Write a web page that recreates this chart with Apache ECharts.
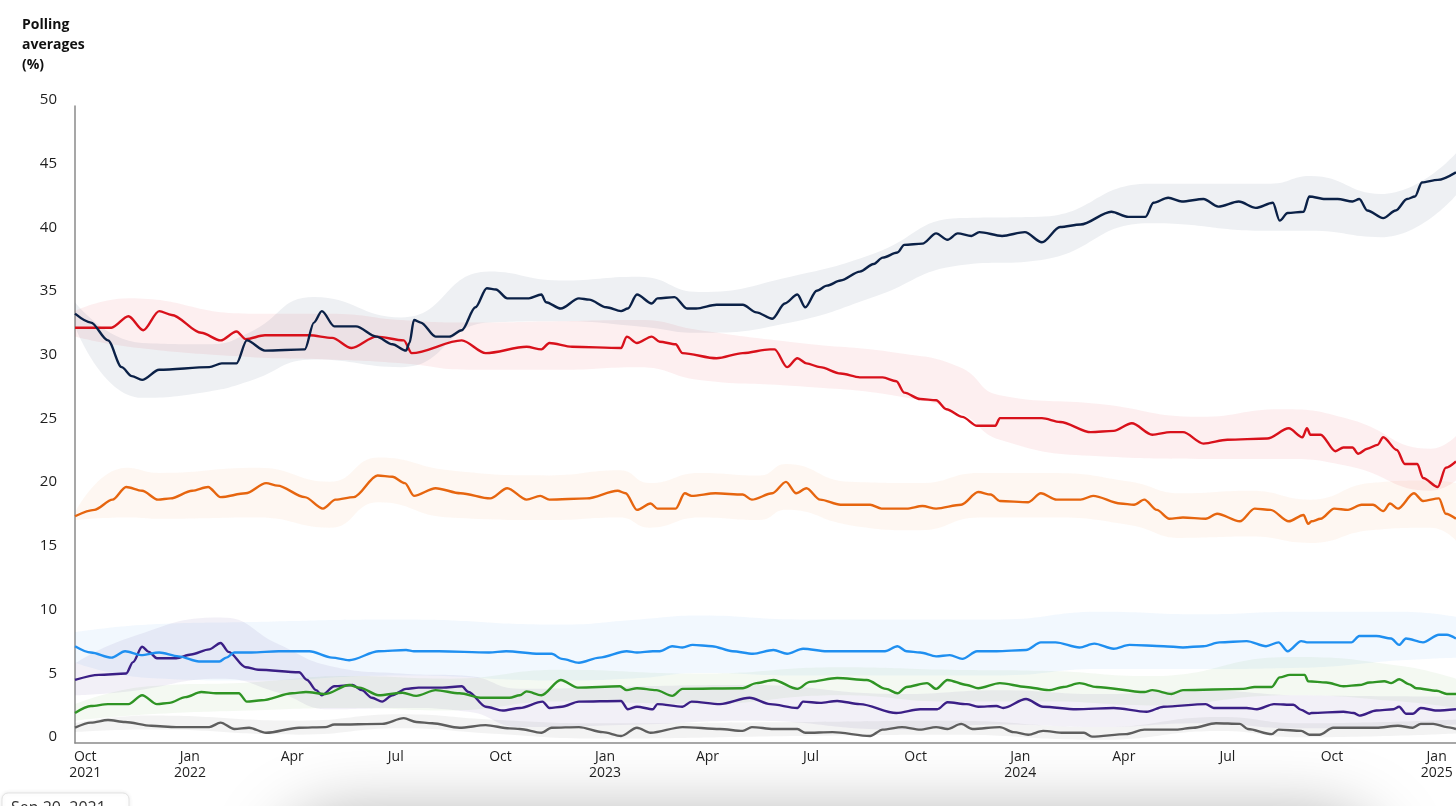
<!DOCTYPE html>
<html>
<head>
<meta charset="utf-8">
<script src="https://cdn.jsdelivr.net/npm/echarts@6/dist/echarts.min.js"></script>
<style>
html,body{margin:0;padding:0;background:#fff;}
#chart{width:1456px;height:806px;}
</style>
</head>
<body>
<div id="chart"></div>
<script>
// ---------- DATA ----------
const monthNames = ['Jan','Feb','Mar','Apr','May','Jun','Jul','Aug','Sep','Oct','Nov','Dec'];
const firstYear = 2021;

const conservative = [
['2021-09-22',33.7],['2021-10-06',33.0],['2021-10-21',31.6],['2021-11-02',29.5],['2021-11-11',28.8],['2021-11-20',28.5],
['2021-12-05',29.3],['2022-01-18',29.5],['2022-01-29',29.8],['2022-02-11',29.8],['2022-02-20',31.6],['2022-03-08',30.8],
['2022-04-12',30.9],['2022-04-20',33.0],['2022-04-27',33.9],['2022-05-08',32.7],['2022-05-27',32.7],['2022-06-14',31.9],
['2022-06-28',31.3],['2022-07-10',30.8],['2022-07-13',31.4],['2022-07-17',33.2],['2022-07-23',33.0],['2022-08-05',31.9],
['2022-08-17',31.9],['2022-08-28',32.4],['2022-09-09',34.2],['2022-09-19',35.7],['2022-09-27',35.6],['2022-10-07',34.9],
['2022-10-26',34.9],['2022-11-06',35.2],['2022-11-10',34.6],['2022-11-23',34.1],['2022-12-09',34.9],['2022-12-18',34.8],
['2023-01-02',34.2],['2023-01-15',33.9],['2023-01-21',34.1],['2023-01-29',35.2],['2023-02-11',34.5],['2023-02-16',34.9],
['2023-03-03',35.0],['2023-03-14',34.1],['2023-03-22',34.1],['2023-04-09',34.4],['2023-05-02',34.4],['2023-05-14',33.8],
['2023-05-28',33.3],['2023-06-08',34.5],['2023-06-19',35.2],['2023-06-26',34.2],['2023-07-06',35.5],['2023-07-15',35.9],
['2023-07-27',36.3],['2023-08-13',37.0],['2023-08-25',37.6],['2023-09-02',38.1],['2023-09-15',38.5],['2023-09-21',39.1],
['2023-10-07',39.2],['2023-10-19',40.0],['2023-10-29',39.5],['2023-11-07',40.0],['2023-11-19',39.8],['2023-11-26',40.1],
['2023-12-16',39.8],['2024-01-05',40.1],['2024-01-20',39.3],['2024-02-05',40.5],['2024-02-23',40.7],['2024-03-21',41.7],
['2024-04-05',41.3],['2024-04-20',41.3],['2024-04-27',42.4],['2024-05-10',42.8],['2024-05-22',42.5],['2024-06-10',42.7],
['2024-06-23',42.1],['2024-07-11',42.5],['2024-07-26',42.0],['2024-08-10',42.4],['2024-08-16',41.0],['2024-08-23',41.6],
['2024-09-06',41.7],['2024-09-11',42.9],['2024-09-25',42.7],['2024-10-06',42.7],['2024-10-19',42.5],['2024-10-25',42.7],
['2024-11-01',41.8],['2024-11-15',41.2],['2024-11-26',41.8],['2024-12-06',42.7],['2024-12-13',42.9],['2024-12-19',44.0],
['2025-01-02',44.2],['2025-01-18',44.8]
];

const liberal = [
['2021-09-22',32.6],['2021-10-24',32.6],['2021-11-08',33.5],['2021-11-21',32.4],['2021-12-05',33.9],['2021-12-16',33.6],
['2022-01-11',32.2],['2022-01-28',31.6],['2022-02-11',32.3],['2022-02-19',31.7],['2022-03-08',32.0],['2022-04-16',32.0],
['2022-05-06',31.8],['2022-05-23',31.0],['2022-06-14',31.9],['2022-07-08',31.6],['2022-07-15',30.6],['2022-08-28',31.6],
['2022-09-18',30.6],['2022-10-24',31.1],['2022-11-06',30.9],['2022-11-13',31.4],['2022-12-03',31.1],['2023-01-15',31.0],
['2023-01-20',31.9],['2023-01-29',31.4],['2023-02-11',31.9],['2023-02-18',31.5],['2023-03-04',31.3],['2023-03-10',30.6],
['2023-04-09',30.2],['2023-05-02',30.6],['2023-05-26',30.9],['2023-05-30',30.9],['2023-06-10',29.5],['2023-06-19',30.2],
['2023-06-27',29.8],['2023-07-09',29.5],['2023-07-27',29.0],['2023-08-13',28.7],['2023-09-02',28.7],['2023-09-14',28.4],
['2023-09-21',27.5],['2023-10-05',27.0],['2023-10-19',26.9],['2023-10-28',26.2],['2023-11-11',25.6],['2023-11-24',24.9],
['2023-12-10',24.9],['2023-12-14',25.5],['2024-01-20',25.5],['2024-02-05',25.2],['2024-03-03',24.4],['2024-03-23',24.5],
['2024-04-08',25.1],['2024-04-26',24.2],['2024-05-12',24.4],['2024-05-23',24.4],['2024-06-10',23.5],['2024-07-01',23.8],
['2024-08-05',23.9],['2024-08-24',24.7],['2024-09-05',24.0],['2024-09-09',24.7],['2024-09-12',24.2],['2024-09-21',24.2],
['2024-10-04',22.9],['2024-10-11',23.2],['2024-10-19',23.2],['2024-10-24',22.7],['2024-11-01',23.1],['2024-11-10',23.4],
['2024-11-15',24.0],['2024-11-27',23.0],['2024-12-04',21.9],['2024-12-15',21.9],['2024-12-20',20.8],['2025-01-02',20.1],
['2025-01-09',21.6],['2025-01-18',22.1]
];

const ndp = [
['2021-09-22',17.8],['2021-10-09',18.3],['2021-10-25',19.1],['2021-11-06',20.1],['2021-11-20',19.8],['2021-12-04',19.1],
['2021-12-15',19.2],['2022-01-03',19.8],['2022-01-17',20.1],['2022-01-28',19.3],['2022-02-19',19.6],['2022-03-09',20.4],
['2022-03-19',20.2],['2022-04-12',19.3],['2022-04-28',18.4],['2022-05-09',19.1],['2022-05-25',19.3],['2022-06-15',21.0],
['2022-06-28',20.9],['2022-07-09',20.4],['2022-07-17',19.4],['2022-08-05',20.0],['2022-08-27',19.6],['2022-09-22',19.2],
['2022-10-07',20.0],['2022-10-24',19.1],['2022-11-05',19.4],['2022-11-13',19.1],['2022-12-16',19.2],['2023-01-12',19.8],
['2023-01-19',19.6],['2023-01-29',18.3],['2023-02-10',18.8],['2023-02-16',18.4],['2023-03-04',18.4],['2023-03-12',19.6],
['2023-03-18',19.4],['2023-04-08',19.6],['2023-05-02',19.5],['2023-05-10',19.1],['2023-05-28',19.6],['2023-06-09',20.5],
['2023-06-18',19.6],['2023-06-27',20.0],['2023-07-09',19.1],['2023-07-27',18.7],['2023-08-22',18.7],['2023-09-01',18.4],
['2023-09-23',18.4],['2023-10-07',18.6],['2023-10-19',18.4],['2023-11-10',18.7],['2023-11-25',19.7],['2023-12-06',19.5],
['2023-12-14',19.0],['2024-01-08',18.9],['2024-01-19',19.6],['2024-02-02',19.1],['2024-02-23',19.1],['2024-03-05',19.4],
['2024-03-29',18.8],['2024-04-10',18.7],['2024-04-19',19.1],['2024-04-30',18.3],['2024-05-11',17.6],['2024-05-23',17.7],
['2024-06-12',17.6],['2024-06-22',18.0],['2024-07-12',17.4],['2024-07-25',18.4],['2024-08-08',18.3],['2024-08-24',17.4],
['2024-09-06',17.9],['2024-09-10',17.2],['2024-09-13',17.4],['2024-09-21',17.6],['2024-10-03',18.4],['2024-10-15',18.3],
['2024-10-27',18.7],['2024-11-06',18.7],['2024-11-15',18.2],['2024-11-21',18.8],['2024-11-28',18.4],['2024-12-12',19.6],
['2024-12-20',19.0],['2025-01-03',19.2],['2025-01-09',18.0],['2025-01-18',17.6]
];

const bloc = [
['2021-09-22',7.6],['2021-10-06',7.1],['2021-10-24',6.7],['2021-11-05',7.2],['2021-11-19',6.9],['2021-12-05',7.1],
['2021-12-22',6.8],['2022-01-09',6.4],['2022-01-27',6.4],['2022-02-02',6.7],['2022-02-09',7.1],['2022-02-24',7.1],
['2022-03-20',7.2],['2022-04-16',7.2],['2022-05-06',6.7],['2022-05-21',6.5],['2022-06-16',7.2],['2022-07-10',7.3],
['2022-07-17',7.2],['2022-08-08',7.2],['2022-09-21',7.1],['2022-10-06',7.2],['2022-11-04',7.0],['2022-11-15',7.0],
['2022-11-24',6.6],['2022-12-09',6.3],['2022-12-27',6.7],['2023-01-20',7.2],['2023-01-29',7.1],['2023-02-12',7.2],
['2023-02-18',7.2],['2023-03-01',7.6],['2023-03-10',7.5],['2023-03-19',7.7],['2023-04-05',7.6],['2023-04-23',7.2],
['2023-05-11',7.0],['2023-05-29',7.3],['2023-06-10',7.0],['2023-06-24',7.4],['2023-07-15',7.2],['2023-08-11',7.2],
['2023-09-04',7.2],['2023-09-15',7.6],['2023-09-23',7.2],['2023-10-05',7.1],['2023-10-19',6.8],['2023-10-31',6.9],
['2023-11-11',6.6],['2023-11-24',7.2],['2023-12-11',7.2],['2024-01-06',7.3],['2024-01-19',7.9],['2024-02-01',7.9],
['2024-02-22',7.5],['2024-03-06',7.8],['2024-03-23',7.4],['2024-04-06',7.7],['2024-05-06',7.6],['2024-05-23',7.5],
['2024-06-10',7.6],['2024-06-24',7.9],['2024-07-18',8.0],['2024-08-04',7.6],['2024-08-15',7.9],['2024-08-23',7.2],
['2024-09-04',8.0],['2024-09-09',7.9],['2024-09-24',7.9],['2024-10-18',7.9],['2024-10-25',8.4],['2024-11-09',8.4],
['2024-11-22',8.2],['2024-11-29',7.7],['2024-12-05',8.2],['2024-12-20',7.9],['2025-01-03',8.5],['2025-01-10',8.5],
['2025-01-18',8.2]
];

const green = [
['2021-09-22',2.35],['2021-10-06',2.9],['2021-10-21',3.05],['2021-11-08',3.05],['2021-11-20',3.75],['2021-12-03',3.05],
['2021-12-14',3.15],['2021-12-28',3.6],['2022-01-11',4.0],['2022-01-24',3.9],['2022-02-13',3.9],['2022-02-20',3.25],
['2022-03-05',3.35],['2022-04-01',3.9],['2022-04-13',4.0],['2022-04-30',3.85],['2022-05-21',4.55],['2022-05-30',4.35],
['2022-06-16',3.75],['2022-07-07',3.95],['2022-07-19',3.7],['2022-08-05',4.15],['2022-08-26',3.9],['2022-09-15',3.55],
['2022-10-09',3.55],['2022-10-18',3.75],['2022-10-24',4.05],['2022-11-06',3.75],['2022-11-23',4.95],['2022-12-08',4.35],
['2023-01-14',4.45],['2023-01-20',4.15],['2023-01-29',4.3],['2023-02-15',4.15],['2023-03-01',3.7],['2023-03-10',4.25],
['2023-05-02',4.3],['2023-05-14',4.7],['2023-05-29',4.95],['2023-06-19',4.25],['2023-06-30',4.8],['2023-07-24',5.1],
['2023-08-19',4.95],['2023-09-05',4.25],['2023-09-15',3.9],['2023-09-23',4.4],['2023-10-11',4.7],['2023-10-19',4.25],
['2023-10-29',4.95],['2023-11-15',4.55],['2023-11-25',4.3],['2023-12-14',4.7],['2024-01-06',4.4],['2024-01-26',4.15],
['2024-02-08',4.4],['2024-02-22',4.7],['2024-03-08',4.4],['2024-04-19',4.0],['2024-04-26',4.15],['2024-05-13',3.85],
['2024-05-23',4.15],['2024-07-15',4.25],['2024-07-25',4.4],['2024-08-09',4.4],['2024-08-16',5.15],['2024-08-25',5.35],
['2024-09-07',5.35],['2024-09-10',4.85],['2024-09-26',4.75],['2024-10-11',4.45],['2024-10-25',4.55],['2024-11-03',4.75],
['2024-11-16',4.85],['2024-11-22',4.7],['2024-11-29',5.0],['2024-12-08',4.6],['2024-12-14',4.3],['2025-01-01',4.1],
['2025-01-10',3.85],['2025-01-18',3.85]
];

const ppc = [
['2021-09-22',4.95],['2021-10-13',5.35],['2021-11-06',5.45],['2021-11-12',6.35],['2021-11-20',7.55],['2021-11-26',7.15],
['2021-12-03',6.65],['2021-12-20',6.65],['2022-01-02',6.95],['2022-01-18',7.35],['2022-01-28',7.85],['2022-02-04',7.15],
['2022-02-19',5.95],['2022-03-02',5.75],['2022-04-07',5.55],['2022-04-14',4.95],['2022-04-22',4.15],['2022-04-27',3.75],
['2022-05-08',4.45],['2022-05-24',4.55],['2022-06-01',4.15],['2022-06-10',3.55],['2022-06-19',3.25],['2022-06-28',3.75],
['2022-07-10',4.25],['2022-07-21',4.35],['2022-08-11',4.35],['2022-08-28',4.45],['2022-09-03',4.0],['2022-09-18',2.85],
['2022-10-03',2.55],['2022-10-18',2.75],['2022-11-07',3.25],['2022-11-13',2.75],['2022-11-24',2.85],['2022-12-09',3.25],
['2023-01-15',3.3],['2023-01-21',2.65],['2023-01-29',2.85],['2023-02-12',2.65],['2023-02-16',3.05],['2023-03-10',2.85],
['2023-03-18',3.25],['2023-04-12',3.05],['2023-05-08',3.55],['2023-05-26',3.05],['2023-06-19',2.75],['2023-06-24',3.25],
['2023-07-09',3.15],['2023-07-24',3.3],['2023-08-13',3.05],['2023-09-14',2.35],['2023-10-05',2.65],['2023-10-20',2.65],
['2023-10-29',3.2],['2023-11-15',3.05],['2023-11-25',2.85],['2023-12-11',2.9],['2023-12-17',2.75],['2024-01-06',3.45],
['2024-01-21',2.85],['2024-02-19',2.65],['2024-03-23',2.75],['2024-04-21',2.45],['2024-05-06',2.85],['2024-06-12',3.05],
['2024-06-19',2.75],['2024-07-18',2.75],['2024-07-27',2.65],['2024-08-11',3.05],['2024-08-28',3.0],['2024-09-04',2.6],
['2024-09-11',2.3],['2024-09-13',2.35],['2024-10-11',2.45],['2024-10-20',2.35],['2024-10-25',2.15],['2024-11-09',2.55],
['2024-11-24',2.65],['2024-11-29',2.85],['2024-12-05',2.3],['2024-12-11',2.3],['2024-12-18',2.75],['2025-01-01',2.55],
['2025-01-18',2.65]
];

const others = [
['2021-09-22',1.2],['2021-10-06',1.6],['2021-10-21',1.8],['2021-11-05',1.65],['2021-11-28',1.35],['2021-12-20',1.25],
['2022-01-18',1.25],['2022-01-28',1.6],['2022-02-09',1.1],['2022-02-22',1.2],['2022-03-09',0.8],['2022-04-07',1.2],
['2022-04-30',1.25],['2022-05-08',1.45],['2022-06-19',1.5],['2022-07-08',1.95],['2022-07-19',1.65],['2022-08-02',1.55],
['2022-08-26',1.2],['2022-09-18',1.4],['2022-10-09',1.15],['2022-10-18',1.1],['2022-11-06',0.8],['2022-11-15',1.2],
['2022-12-09',1.25],['2022-12-30',0.85],['2023-01-15',0.55],['2023-01-29',1.2],['2023-02-10',0.8],['2023-03-10',1.25],
['2023-04-12',1.1],['2023-05-02',0.95],['2023-05-10',1.25],['2023-05-29',1.1],['2023-06-19',1.1],['2023-06-26',0.8],
['2023-07-20',0.85],['2023-08-22',0.55],['2023-09-02',1.05],['2023-09-19',1.25],['2023-10-05',1.05],['2023-10-19',1.25],
['2023-10-29',1.1],['2023-11-10',1.5],['2023-11-20',1.1],['2023-12-14',1.25],['2023-12-26',0.85],['2024-01-08',0.65],
['2024-01-21',0.95],['2024-02-08',0.8],['2024-02-26',0.8],['2024-03-04',0.5],['2024-04-03',0.7],['2024-04-19',1.05],
['2024-05-17',1.05],['2024-06-01',1.2],['2024-06-21',1.55],['2024-07-12',1.5],['2024-07-19',1.1],['2024-08-09',0.7],
['2024-08-15',1.05],['2024-09-04',0.95],['2024-09-11',0.65],['2024-09-20',0.65],['2024-10-02',1.2],['2024-10-29',1.2],
['2024-11-09',1.2],['2024-11-28',1.35],['2024-12-11',1.2],['2024-12-18',1.5],['2024-12-29',1.5],['2025-01-10',1.25],
['2025-01-18',1.1]
];

// uncertainty bands: [date, lower, upper]
const conBand = [
['2021-09-22',32.7,34.6],['2021-11-20',27.1,31.4],['2022-01-18',27.6,31.3],['2022-02-22',28.4,32.2],['2022-04-20',30.1,35.0],
['2022-07-06',29.5,33.4],['2022-09-21',33.0,37.0],['2022-11-22',33.1,36.3],['2023-01-31',32.7,36.6],['2023-03-25',32.2,35.4],
['2023-06-13',33.0,36.6],['2023-08-25',35.0,38.4],['2023-11-09',37.5,41.2],['2024-01-18',37.9,41.3],['2024-04-24',40.8,43.9],
['2024-08-08',40.2,43.9],['2024-09-12',40.2,44.5],['2024-11-13',39.7,43.1],['2025-01-18',43.0,46.3]
];
const libBand = [
['2021-09-22',31.9,33.9],['2021-11-08',31.1,34.9],['2022-02-22',30.3,33.7],['2022-05-04',30.1,33.7],['2022-07-06',29.8,33.2],
['2022-09-03',29.3,33.0],['2022-11-22',29.3,33.1],['2023-01-31',29.5,33.2],['2023-03-25',28.5,32.4],['2023-06-21',28.0,31.4],
['2023-09-17',27.2,30.6],['2023-11-09',25.9,29.5],['2023-12-14',23.8,27.3],['2024-03-11',22.5,26.6],['2024-06-07',22.3,25.6],
['2024-08-17',22.3,26.2],['2024-10-17',21.7,25.4],['2024-12-27',19.8,23.1],['2025-01-18',20.6,24.1]
];
const ndpBand = [
['2021-09-22',17.5,18.1],['2021-11-06',17.7,21.6],['2021-12-05',17.6,21.2],['2022-03-02',17.7,21.6],['2022-05-04',16.9,20.5],
['2022-06-16',18.9,22.4],['2022-08-17',17.7,21.4],['2022-11-13',17.5,21.0],['2023-01-14',17.7,21.4],['2023-02-09',16.9,20.4],
['2023-03-25',17.7,21.2],['2023-05-17',17.5,21.0],['2023-06-09',18.3,21.9],['2023-08-04',17.1,20.5],['2023-10-05',16.7,20.4],
['2023-11-26',17.7,21.2],['2024-01-27',17.7,21.2],['2024-04-07',17.1,20.5],['2024-05-21',16.1,19.6],['2024-07-22',16.2,19.8],
['2024-09-12',15.7,19.1],['2024-11-04',16.7,20.4],['2024-12-27',16.9,20.6],['2025-01-18',15.9,20.4]
];
const blocBand = [
['2021-09-22',6.3,8.7],['2021-11-26',5.1,9.3],['2022-02-22',4.9,9.5],['2022-07-06',5.3,9.7],['2022-11-22',4.9,9.3],
['2023-01-31',5.1,9.7],['2023-03-25',5.5,10.0],['2023-06-21',5.3,9.7],['2023-09-17',5.3,9.7],['2023-12-14',5.3,9.7],
['2024-03-11',5.8,10.3],['2024-06-07',5.8,10.1],['2024-09-03',5.9,10.3],['2024-12-01',6.5,10.3],['2025-01-18',6.7,9.9]
];
const greenBand = [
['2021-09-22',1.75,3.05],['2021-11-26',2.25,4.45],['2022-02-22',2.55,4.75],['2022-05-21',2.75,5.25],['2022-08-17',2.55,5.05],
['2022-11-22',3.25,5.75],['2023-03-25',3.05,5.45],['2023-07-27',3.75,5.95],['2023-10-31',3.25,5.75],['2024-01-27',3.25,5.65],
['2024-04-24',2.95,5.25],['2024-08-26',3.75,6.75],['2024-12-01',3.25,6.05],['2025-01-18',2.75,5.05]
];
const ppcBand = [
['2021-09-22',3.75,6.25],['2021-11-08',4.05,8.25],['2022-01-28',5.05,9.85],['2022-03-20',3.95,7.75],['2022-05-04',2.65,6.05],
['2022-07-06',2.75,5.45],['2022-09-03',2.45,5.25],['2022-10-18',1.25,4.25],['2023-01-31',1.45,4.45],['2023-05-08',1.75,4.55],
['2023-09-17',1.05,3.85],['2023-12-14',1.45,4.15],['2024-03-11',1.25,3.85],['2024-06-07',1.55,4.15],['2024-09-03',1.15,3.75],
['2025-01-18',1.45,3.65]
];
const othersBand = [
['2021-09-22',0.85,1.55],['2021-11-26',1.05,2.15],['2022-04-07',0.65,1.75],['2022-07-06',1.15,2.25],['2022-09-21',0.75,1.85],
['2022-12-27',0.35,1.55],['2023-06-21',0.55,1.65],['2023-10-31',0.65,1.75],['2024-03-11',0.25,1.25],['2024-06-25',0.95,2.05],
['2024-09-03',0.45,1.55],['2025-01-18',0.75,1.85]
];

// ---------- CHART ----------
const FONT = '"Open Sans", Lato, sans-serif';
const chart = echarts.init(document.getElementById('chart'), null, {renderer:'canvas'});

function bandSeries(id, band, color) {
  return [
    {type:'line', name:id+'-lo', stack:id, data:band.map(b=>[b[0], b[1]]), symbol:'none', smooth:0.5,
     lineStyle:{width:0, opacity:0}, silent:true, z:1},
    {type:'line', name:id+'-hi', stack:id, data:band.map(b=>[b[0], b[2]-b[1]]), symbol:'none', smooth:0.5,
     lineStyle:{width:0, opacity:0}, areaStyle:{color:color, opacity:1}, silent:true, z:1}
  ];
}
function lineSeries(id, data, color, z) {
  return {type:'line', name:id, data:data, symbol:'none', smooth:0.3, smoothMonotone:'x',
    lineStyle:{color:color, width:2.4}, itemStyle:{color:color}, silent:true, z:z};
}

const series = [].concat(
  bandSeries('bloc', blocBand, 'rgba(30,140,230,0.06)'),
  bandSeries('ppc', ppcBand, 'rgba(70,40,140,0.07)'),
  bandSeries('green', greenBand, 'rgba(60,160,40,0.06)'),
  bandSeries('others', othersBand, 'rgba(90,90,90,0.07)'),
  bandSeries('ndp', ndpBand, 'rgba(240,120,30,0.06)'),
  bandSeries('lib', libBand, 'rgba(220,30,40,0.07)'),
  bandSeries('con', conBand, 'rgba(20,40,80,0.07)'),
  [
    lineSeries('Others', others, '#5e5e5e', 3),
    lineSeries('PPC', ppc, '#3b1f86', 4),
    lineSeries('Green', green, '#2f9424', 5),
    lineSeries('Bloc', bloc, '#1f8ff0', 6),
    lineSeries('NDP', ndp, '#e6650f', 7),
    lineSeries('Liberal', liberal, '#d8111b', 8),
    lineSeries('Conservative', conservative, '#0b2147', 9)
  ]
);

chart.setOption({
  animation:false,
  backgroundColor:'#ffffff',
  textStyle:{fontFamily:FONT},
  title:{
    text:'Polling\naverages\n(%)', left:22, top:15, padding:0,
    textStyle:{fontSize:14, fontWeight:'bold', color:'#111', lineHeight:20, fontFamily:FONT}
  },
  grid:{left:75, right:0, top:106, bottom:63, containLabel:false},
  xAxis:{
    type:'time', min:'2021-09-22', max:'2025-01-18',
    splitNumber:13, minInterval:95*86400000, maxInterval:95*86400000,
    axisLine:{show:true, lineStyle:{color:'#8a8a8a', width:1.5}},
    axisTick:{show:false}, splitLine:{show:false},
    axisLabel:{
      color:'#1e1e1e', fontSize:14, lineHeight:16, margin:6, fontFamily:FONT,
      showMinLabel:false, showMaxLabel:false, hideOverlap:false,
      formatter:function(val){
        const d = new Date(val); const m = d.getMonth(); const y = d.getFullYear();
        const name = monthNames[m];
        return (m === 0 || y === firstYear) ? name + '\n' + y : name;
      }
    }
  },
  yAxis:{
    type:'value', min:0, max:50, interval:5,
    axisLine:{show:true, lineStyle:{color:'#8a8a8a', width:1.5}},
    axisTick:{show:false}, splitLine:{show:false},
    axisLabel:{color:'#1e1e1e', fontSize:15, margin:18, verticalAlign:'bottom', lineHeight:12, fontFamily:FONT}
  },
  graphic:[
    {type:'rect', silent:true, z:-1,
     shape:{x:280, y:818, width:1100, height:120, r:60},
     style:{fill:'#ffffff', shadowBlur:70, shadowColor:'rgba(0,0,0,0.35)'}},
    {type:'rect', silent:true, z:10,
     shape:{x:2, y:793, width:127, height:40, r:6},
     style:{fill:'#ffffff', stroke:'#e3e3e3', lineWidth:1, shadowBlur:4, shadowColor:'rgba(0,0,0,0.08)'}},
    {type:'text', silent:true, z:11, left:11, top:800,
     style:{text:'Sep 20, 2021', fill:'#333', font:'16px ' + FONT}}
  ],
  series:series
});
</script>
</body>
</html>
